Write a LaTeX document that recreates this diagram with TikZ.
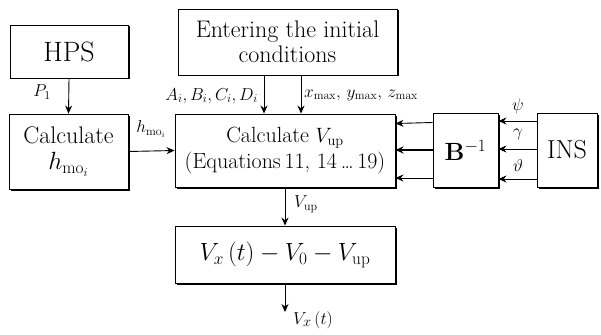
\documentclass[tikz,border=0pt]{standalone}
\usetikzlibrary{arrows.meta,shadows}
\begin{document}
\begin{tikzpicture}[x=1pt,y=-1pt,
  box/.style={draw,line width=0.9pt,fill=white,inner sep=0pt,align=center,
    drop shadow={shadow xshift=1.5pt,shadow yshift=-1.5pt,fill=black,opacity=1}},
  arr/.style={line width=0.9pt,-{Stealth[length=8pt,width=7pt]}},
  lab/.style={font=\fontsize{17}{18}\selectfont,inner sep=1pt}]
\useasboundingbox (0,0) rectangle (601,334);
\node[box,minimum width=118pt,minimum height=53pt,font=\fontsize{28}{30}\selectfont] (hps) at (69,51.5) {HPS};
\node[box,minimum width=119pt,minimum height=75pt,font=\fontsize{24}{26}\selectfont] (calch) at (68.5,151.5) {Calculate\\[0pt]$h_{\mathrm{mo}_i}$};
\node[box,minimum width=219pt,minimum height=66pt,font=\fontsize{24}{25}\selectfont] (enter) at (287.5,42) {Entering the initial\\conditions};
\node[box,minimum width=220pt,minimum height=73pt,font=\fontsize{22}{26}\selectfont] (calcv) at (285,150.5) {Calculate $V_{\mathrm{up}}$\\(Equations\,11, 14\,\dots\,19)};
\node[box,minimum width=65pt,minimum height=74pt,font=\fontsize{27}{28}\selectfont] (binv) at (465.5,150) {$\mathbf{B}^{-1}$};
\node[box,minimum width=60pt,minimum height=74pt,font=\fontsize{26}{28}\selectfont] (ins) at (567,150) {INS};
\node[box,minimum width=220pt,minimum height=57pt,font=\fontsize{24}{26}\selectfont] (vx) at (285,254.5) {$V_x\,(t)-V_0-V_{\mathrm{up}}$};
\coordinate (vxout) at (285,312);
% arrows
\draw[arr] (hps.south) -- (calch.north);
\node[lab] (p1) at (42,92) {$P_1$};
\draw[arr] (calch.east) -- (calcv.west);
\node[lab] (hl) at (151,129) {$h_{\mathrm{mo}_i}$};
\draw[arr] ([xshift=-23.5pt]enter.south) -- ([xshift=-21pt]calcv.north);
\draw[arr] ([xshift=13.5pt]enter.south) -- ([xshift=16pt]calcv.north);
\node[lab,anchor=east] (abcd) at (259,96) {$A_i, B_i, C_i, D_i$};
\node[lab,anchor=west,font=\fontsize{18}{19}\selectfont] (xyz) at (303,95) {$x_{\max},\, y_{\max},\, z_{\max}$};
\draw[arr] ([yshift=27.5pt]binv.west) -- ([yshift=27pt]calcv.east);
\draw[arr,line width=2pt] (binv.west) -- ([yshift=0.5pt]calcv.east);
\draw[arr] ([yshift=-28pt]binv.west) -- ([yshift=-27.5pt]calcv.east);
\draw[arr] ([yshift=29pt]ins.west) -- ([yshift=29pt]binv.east);
\draw[arr] ([yshift=1pt]ins.west) -- ([yshift=1pt]binv.east);
\draw[arr] ([yshift=-29pt]ins.west) -- ([yshift=-29pt]binv.east);
\node[lab] (psi) at (518,106) {$\psi$};
\node[lab] (gam) at (518,134) {$\gamma$};
\node[lab] (tht) at (518,165) {$\vartheta$};
\draw[arr] (calcv.south) -- (vx.north);
\node[lab,anchor=west] (vup) at (293,204) {$V_{\mathrm{up}}$};
\draw[arr] (vx.south) -- (vxout);
\node[lab,anchor=west,font=\fontsize{19}{20}\selectfont] (vxt) at (292,320) {$V_x\,(t)$};
\end{tikzpicture}
\end{document}
